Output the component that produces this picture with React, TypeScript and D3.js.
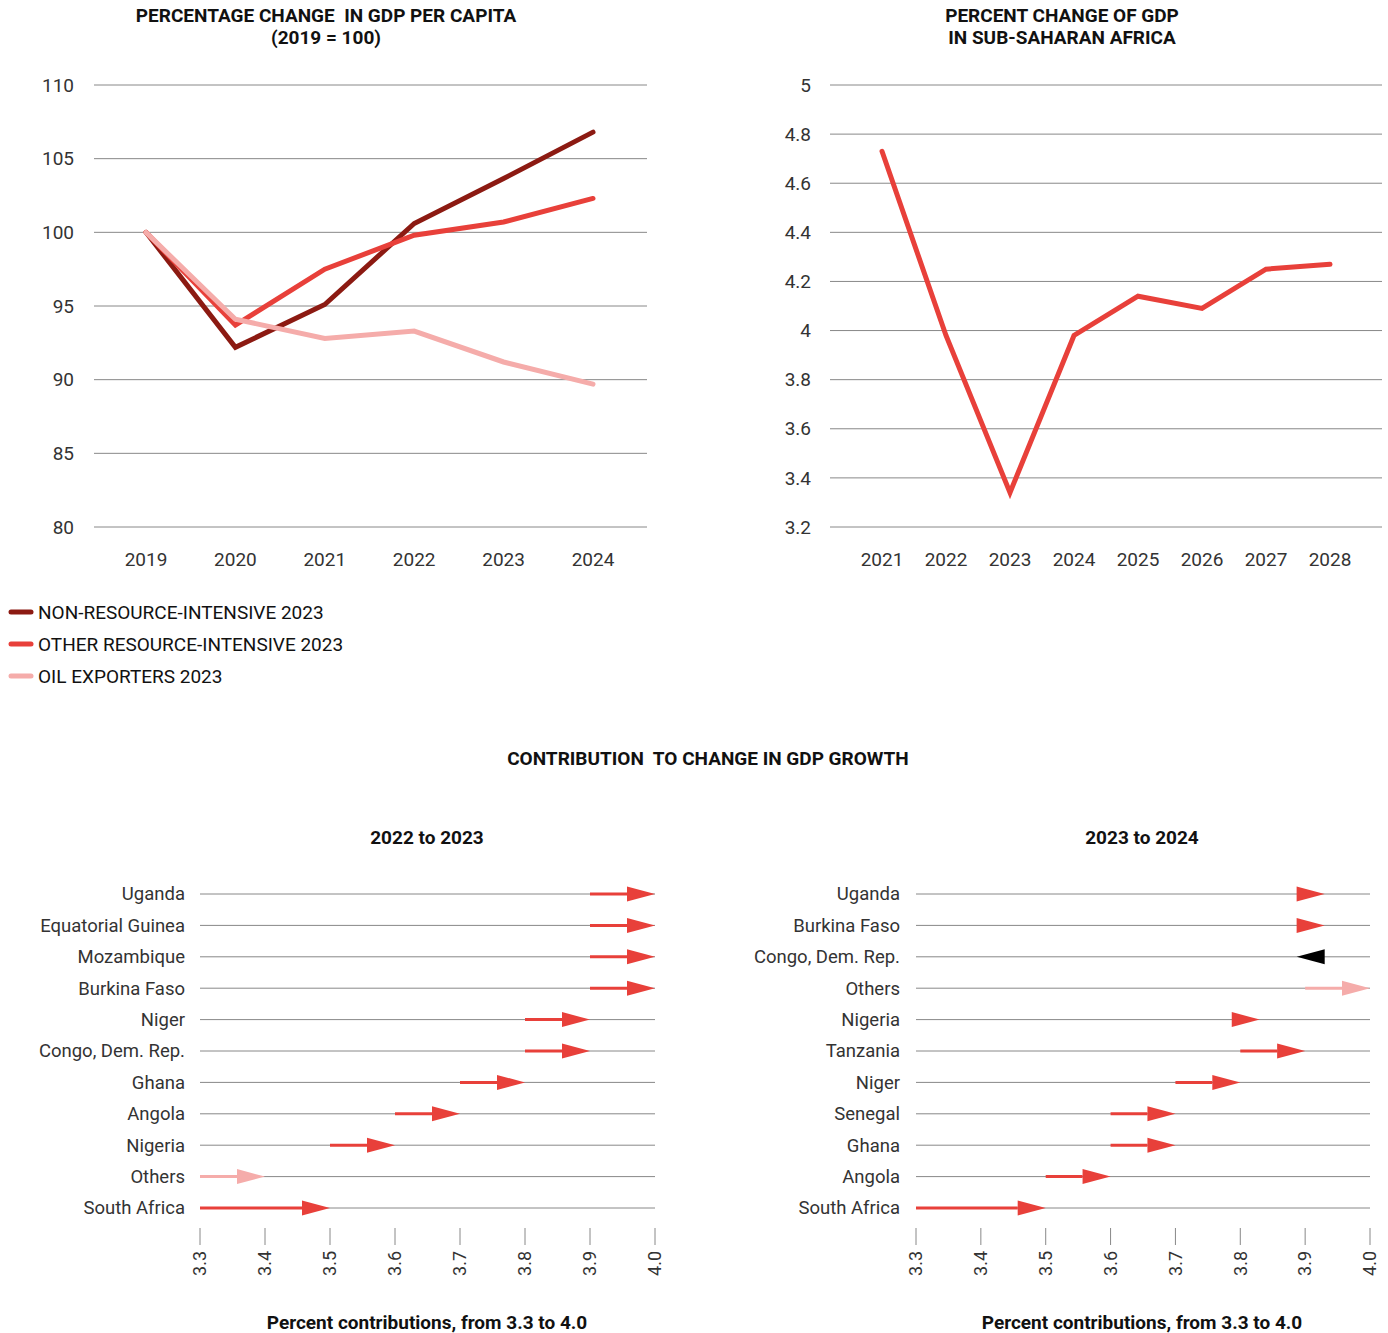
import * as d3 from 'd3'

// ---- data ----
const years1 = ['2019', '2020', '2021', '2022', '2023', '2024']
const nonResource = [100, 92.2, 95.1, 100.6, 103.65, 106.8]
const otherResource = [100, 93.7, 97.5, 99.8, 100.7, 102.3]
const oilExporters = [100, 94.1, 92.8, 93.3, 91.2, 89.7]
const yTicks1 = [80, 85, 90, 95, 100, 105, 110]

const years2 = ['2021', '2022', '2023', '2024', '2025', '2026', '2027', '2028']
const ssaGrowth = [4.73, 3.98, 3.34, 3.98, 4.14, 4.09, 4.25, 4.27]
const yTicks2 = [3.2, 3.4, 3.6, 3.8, 4, 4.2, 4.4, 4.6, 4.8, 5]

const countriesA = ['Uganda', 'Equatorial Guinea', 'Mozambique', 'Burkina Faso', 'Niger', 'Congo, Dem. Rep.', 'Ghana', 'Angola', 'Nigeria', 'Others', 'South Africa']
const fromA = [3.9, 3.9, 3.9, 3.9, 3.8, 3.8, 3.7, 3.6, 3.5, 3.3, 3.3]
const toA = [4.0, 4.0, 4.0, 4.0, 3.9, 3.9, 3.8, 3.7, 3.6, 3.4, 3.5]

const countriesB = ['Uganda', 'Burkina Faso', 'Congo, Dem. Rep.', 'Others', 'Nigeria', 'Tanzania', 'Niger', 'Senegal', 'Ghana', 'Angola', 'South Africa']
const fromB = [3.9, 3.9, 3.93, 3.9, 3.8, 3.8, 3.7, 3.6, 3.6, 3.5, 3.3]
const toB = [3.93, 3.93, 3.887, 4.0, 3.83, 3.9, 3.8, 3.7, 3.7, 3.6, 3.5]

const contribTicks = [3.3, 3.4, 3.5, 3.6, 3.7, 3.8, 3.9, 4.0]

const DARK = '#8c1a12'
const RED = '#e8403a'
const PINK = '#f5acaa'
const GRID = '#888'
const FONT = 'Roboto, "Noto Sans", sans-serif'

const Title = ({ x, y, children }) => (
  <text x={x} y={y} textAnchor="middle" fontWeight={700} fontSize={19} fill="#111" style={{ whiteSpace: 'pre' }}>{children}</text>
)

const LineChartA = () => {
  const x = d3.scalePoint().domain(years1).range([146, 593])
  const y = d3.scaleLinear().domain([80, 110]).range([527, 85])
  const line = d3.line<number>().x((d, i) => x(years1[i])!).y(d => y(d))
  const series = [
    { values: nonResource, color: DARK },
    { values: otherResource, color: RED },
    { values: oilExporters, color: PINK },
  ]
  return (
    <g>
      <Title x={326} y={22}>{'PERCENTAGE CHANGE  IN GDP PER CAPITA'}</Title>
      <Title x={326} y={44}>(2019 = 100)</Title>
      {yTicks1.map(t => (
        <g key={t}>
          <line x1={94} x2={647} y1={y(t)} y2={y(t)} stroke={GRID} strokeWidth={1} />
          <text x={74} y={y(t)} dy="0.35em" textAnchor="end" fontSize={19} fill="#333">{t}</text>
        </g>
      ))}
      {years1.map(yr => (
        <text key={yr} x={x(yr)} y={566} textAnchor="middle" fontSize={19} fill="#333">{yr}</text>
      ))}
      {series.map((s, i) => (
        <path key={i} d={line(s.values)!} fill="none" stroke={s.color} strokeWidth={5} strokeLinecap="round" strokeLinejoin="miter" />
      ))}
    </g>
  )
}

const LineChartB = () => {
  const x = d3.scalePoint().domain(years2).range([882, 1330])
  const y = d3.scaleLinear().domain([3.2, 5]).range([527, 85])
  const line = d3.line<number>().x((d, i) => x(years2[i])!).y(d => y(d))
  return (
    <g>
      <Title x={1062} y={22}>PERCENT CHANGE OF GDP</Title>
      <Title x={1062} y={44}>IN SUB-SAHARAN AFRICA</Title>
      {yTicks2.map(t => (
        <g key={t}>
          <line x1={830} x2={1382} y1={y(t)} y2={y(t)} stroke={GRID} strokeWidth={1} />
          <text x={811} y={y(t)} dy="0.35em" textAnchor="end" fontSize={19} fill="#333">{d3.format('~g')(t)}</text>
        </g>
      ))}
      {years2.map(yr => (
        <text key={yr} x={x(yr)} y={566} textAnchor="middle" fontSize={19} fill="#333">{yr}</text>
      ))}
      <path d={line(ssaGrowth)!} fill="none" stroke={RED} strokeWidth={5} strokeLinecap="round" />
    </g>
  )
}

const Legend = () => {
  const items = [
    { label: 'NON-RESOURCE-INTENSIVE 2023', color: DARK },
    { label: 'OTHER RESOURCE-INTENSIVE 2023', color: RED },
    { label: 'OIL EXPORTERS 2023', color: PINK },
  ]
  return (
    <g>
      {items.map((it, i) => (
        <g key={it.label} transform={`translate(0, ${612 + i * 32})`}>
          <line x1={11} x2={31} y1={0} y2={0} stroke={it.color} strokeWidth={5} strokeLinecap="round" />
          <text x={38} y={0} dy="0.35em" fontSize={19} fill="#111">{it.label}</text>
        </g>
      ))}
    </g>
  )
}

const ArrowChart = ({ countries, from, to, x0, x1, labelX, cx, title }) => {
  const x = d3.scaleLinear().domain([3.3, 4.0]).range([x0, x1])
  const y = d3.scalePoint().domain(countries).range([894, 1208])
  const headLen = 28
  const headHalf = 7.5
  return (
    <g>
      <Title x={cx} y={844}>{title}</Title>
      {countries.map((c, i) => {
        const yy = y(c)!
        const xs = x(from[i])
        const xe = x(to[i])
        const dir = xe >= xs ? 1 : -1
        const base = xe - dir * headLen
        const color = c === 'Others' ? PINK : dir < 0 ? '#000' : RED
        const shaftVisible = (base - xs) * dir > 0
        return (
          <g key={c}>
            <line x1={x0} x2={x1} y1={yy} y2={yy} stroke={GRID} strokeWidth={1} />
            <text x={labelX} y={yy} dy="0.35em" textAnchor="end" fontSize={18.5} fill="#333">{c}</text>
            {shaftVisible && <line x1={xs} x2={base} y1={yy} y2={yy} stroke={color} strokeWidth={3} />}
            <path d={`M${xe},${yy}L${base},${yy - headHalf}L${base},${yy + headHalf}Z`} fill={color} />
          </g>
        )
      })}
      {contribTicks.map(t => (
        <g key={t}>
          <line x1={x(t)} x2={x(t)} y1={1228} y2={1245} stroke={GRID} strokeWidth={1} />
          <text transform={`translate(${x(t)}, 1251) rotate(-90)`} dy="0.35em" textAnchor="end" fontSize={18} fill="#333">{t.toFixed(1)}</text>
        </g>
      ))}
      <Title x={cx} y={1329}>Percent contributions, from 3.3 to 4.0</Title>
    </g>
  )
}

const App = () => {
  return (
    <svg width={1388} height={1333} style={{ position: 'absolute', left: 0, top: 0, background: '#fff' }} fontFamily={FONT}>
      <LineChartA />
      <LineChartB />
      <Legend />
      <Title x={708} y={765}>{'CONTRIBUTION  TO CHANGE IN GDP GROWTH'}</Title>
      <ArrowChart countries={countriesA} from={fromA} to={toA} x0={200} x1={655} labelX={185} cx={427} title="2022 to 2023" />
      <ArrowChart countries={countriesB} from={fromB} to={toB} x0={916} x1={1370} labelX={900} cx={1142} title="2023 to 2024" />
    </svg>
  )
}

export default App
